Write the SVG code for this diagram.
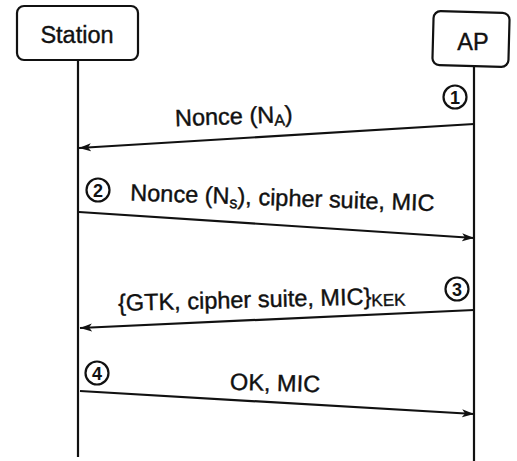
<svg xmlns="http://www.w3.org/2000/svg" width="517" height="461" viewBox="0 0 517 461">
<defs>
<marker id="ah" viewBox="0 0 12 10" refX="12" refY="5" markerWidth="12" markerHeight="10" markerUnits="userSpaceOnUse" orient="auto">
<path d="M0,1 L12,5 L0,9 L3,5 Z" fill="#111"/>
</marker>
</defs>
<style>
.box{fill:#fff;stroke:#111;stroke-width:2.2}
.life{stroke:#111;stroke-width:2.2;fill:none}
.msg{stroke:#111;stroke-width:2.2;fill:none;marker-end:url(#ah)}
.t{font-family:"Liberation Sans",Arial,sans-serif;font-size:23.5px;fill:#111;stroke:#111;stroke-width:0.4}
.num{fill:none;stroke:#111;stroke-width:2.2}
.nt{font-family:"Liberation Sans",Arial,sans-serif;font-size:18px;font-weight:bold;fill:#111;text-anchor:middle}
</style>
<rect width="517" height="461" fill="#fff"/>
<g id="station">
<rect class="box" x="17" y="6" width="121" height="54" rx="7"/>
<text class="t" x="77" y="43" text-anchor="middle">Station</text>
<line class="life" x1="78" y1="60" x2="78" y2="457"/>
</g>
<g id="ap">
<rect class="box" x="433" y="12" width="76" height="54" rx="7" transform="rotate(1.5 471 39)"/>
<text class="t" x="473" y="50" text-anchor="middle">AP</text>
<line class="life" x1="474" y1="66" x2="474" y2="461"/>
</g>
<g id="connectors">
<line class="msg" x1="474" y1="124" x2="79" y2="148"/>
<line class="msg" x1="79" y1="212" x2="474" y2="238"/>
<line class="msg" x1="474" y1="310" x2="80" y2="328"/>
<line class="msg" x1="80" y1="391" x2="474" y2="414"/>
</g>
<g id="labels">
<g transform="rotate(-2 237 118)">
<text class="t" x="175" y="124">Nonce (N<tspan font-size="16" dy="3">A</tspan><tspan dy="-3">)</tspan></text>
</g>
<g transform="rotate(2 290 205)">
<text class="t" x="130" y="206">Nonce (N<tspan font-size="16" dy="4">s</tspan><tspan dy="-4">), cipher suite, MIC</tspan></text>
</g>
<g transform="rotate(-1.5 270 300)">
<text class="t" x="118" y="307">{GTK, cipher suite, MIC}<tspan font-size="17" dy="2">KEK</tspan></text>
</g>
<text class="t" x="230" y="391" transform="rotate(1.5 276 385)">OK, MIC</text>
</g>
<g id="n1"><circle class="num" cx="455" cy="97" r="11.5"/><text class="nt" x="455" y="103.5">1</text></g>
<g id="n2"><circle class="num" cx="98" cy="190" r="11.5"/><text class="nt" x="98" y="196.5">2</text></g>
<g id="n3"><circle class="num" cx="457" cy="289" r="11.5"/><text class="nt" x="457" y="295.5">3</text></g>
<g id="n4"><circle class="num" cx="97" cy="373" r="11.5"/><text class="nt" x="97" y="379.5">4</text></g>
</svg>
